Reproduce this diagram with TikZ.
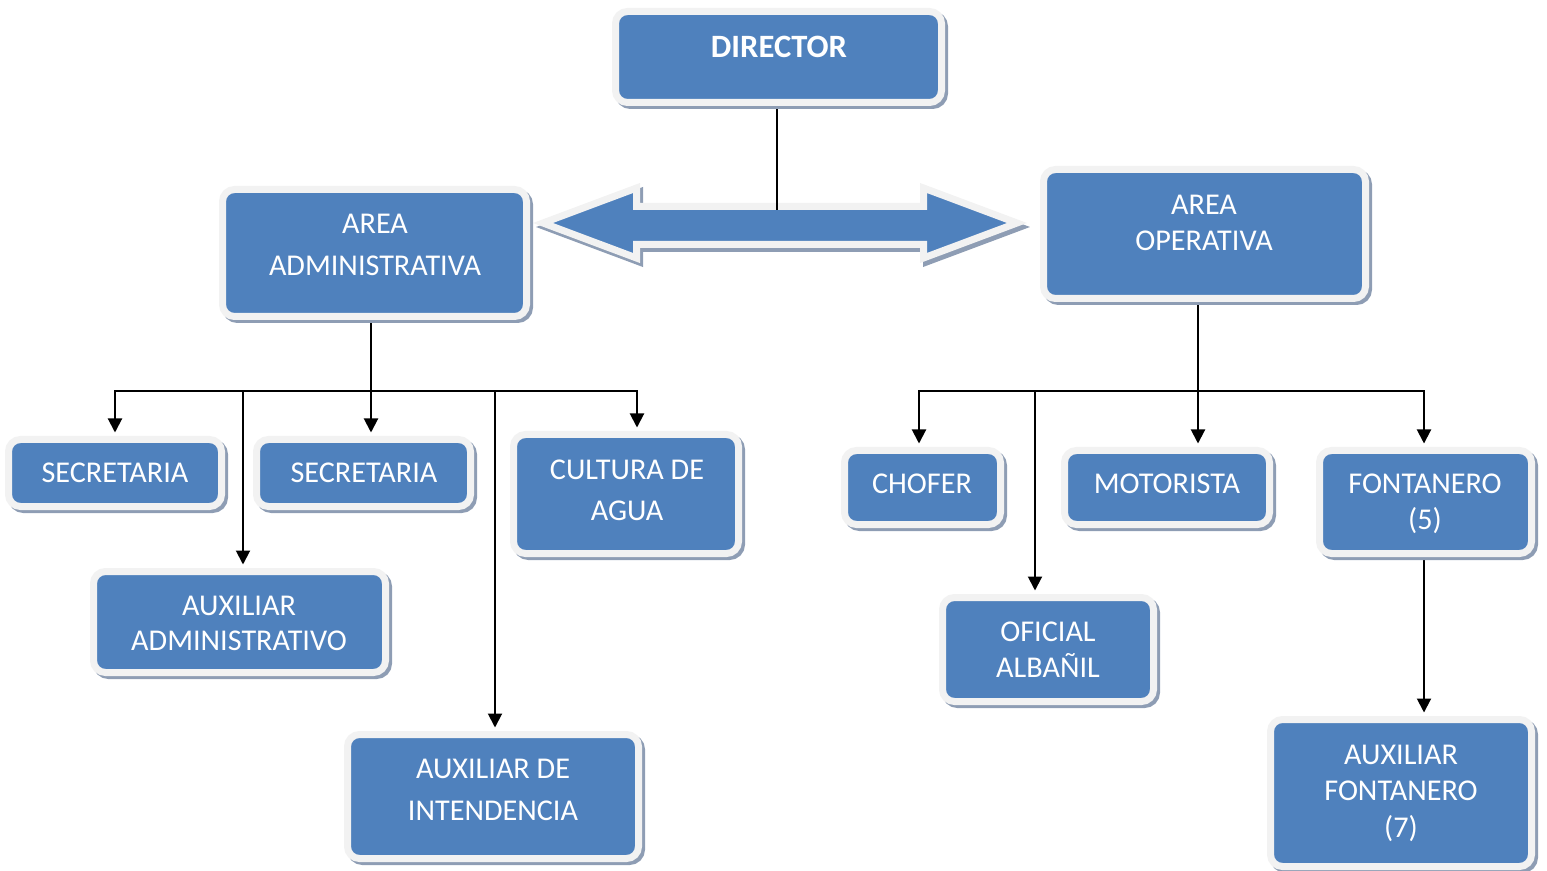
\documentclass[tikz,border=0pt]{standalone}
\usepackage{fontspec}
\setmainfont{Carlito}
\usetikzlibrary{arrows.meta}
\definecolor{boxblue}{HTML}{4F81BD}
\definecolor{boxborder}{HTML}{F2F2F2}
\definecolor{shadowcol}{HTML}{8E9DB4}
\pgfdeclarelayer{back}
\pgfdeclarelayer{mid}
\pgfsetlayers{back,mid,main}
\tikzset{
  obox/.style={rectangle, rounded corners=6pt, fill=boxblue, draw=boxborder, line width=3.5pt, inner sep=0pt},
  oshadow/.style={rectangle, rounded corners=6pt, fill=shadowcol, draw=shadowcol, line width=3.5pt, inner sep=0pt},
  lbl/.style={text=white, align=center, inner sep=0pt, font=\fontsize{15.1}{18}\selectfont},
  lblwide/.style={lbl, font=\fontsize{15.1}{20.6}\selectfont},
  conn/.style={line width=1pt, black},
  arr/.style={conn, -{Triangle[width=7pt,length=7pt]}, shorten >=1.75pt},
}
\newcommand\orgbox[5]{%
  \pgfmathsetmacro\obW{(#4-#2+7)*0.5}%
  \pgfmathsetmacro\obH{(#5-#3+7)*0.5}%
  \node[oshadow, minimum width=\obW pt, minimum height=\obH pt] at ({(#2+#4)/2+3},{(#3+#5)/2+3}) {};%
  \node[obox, minimum width=\obW pt, minimum height=\obH pt] (#1) at ({(#2+#4)/2},{(#3+#5)/2}) {};%
}
\begin{document}
\begin{tikzpicture}[x=0.5pt, y=-0.5pt]
\useasboundingbox (0,0) rectangle (1547,871);

% boxes
\orgbox{director}{619}{15}{938}{99}
\orgbox{admin}{226}{193}{523}{313}
\orgbox{oper}{1047}{173}{1362}{295}
\orgbox{sec1}{12}{443}{218}{503}
\orgbox{sec2}{260}{443}{467}{503}
\orgbox{cult}{517}{438}{735}{550}
\orgbox{auxadm}{97}{575}{382}{669}
\orgbox{auxint}{351}{738}{635}{855}
\orgbox{chofer}{848}{454}{997}{521}
\orgbox{motor}{1068}{454}{1266}{521}
\orgbox{font}{1323}{454}{1528}{550}
\orgbox{ofic}{946}{601}{1150}{698}
\orgbox{auxfont}{1274}{723}{1528}{863}

% labels
\node[lbl, font=\bfseries\fontsize{16.3}{18}\selectfont] (directorT) at (779,47) {DIRECTOR};
\node[lblwide] (adminT) at (375,245) {AREA\\ADMINISTRATIVA};
\node[lbl] (operT) at (1204,223) {AREA\\OPERATIVA};
\node[lbl] (sec1T) at (115,473) {SECRETARIA};
\node[lbl] (sec2T) at (364,473) {SECRETARIA};
\node[lblwide] (cultT) at (627,490) {CULTURA DE\\AGUA};
\node[lbl, font=\fontsize{15.1}{17.5}\selectfont] (auxadmT) at (239,623) {AUXILIAR\\ADMINISTRATIVO};
\node[lblwide] (auxintT) at (493,790) {AUXILIAR DE\\INTENDENCIA};
\node[lbl] (choferT) at (922,484) {CHOFER};
\node[lbl] (motorT) at (1167,484) {MOTORISTA};
\node[lbl] (fontT) at (1425,504) {FONTANERO\\(5)};
\node[lbl] (oficT) at (1048,650) {OFICIAL\\ALBAÑIL};
\node[lbl, font=\fontsize{15.1}{18.25}\selectfont] (auxfontT) at (1401,793) {AUXILIAR\\FONTANERO\\(7)};

% double arrow
\begin{pgfonlayer}{back}
\draw[shadowcol, fill=shadowcol, line width=3.5pt, line join=miter, shift={(3,4)}]
  (543,223) -- (636.5,188) -- (636.5,206.5) -- (923.5,206.5) -- (923.5,188) -- (1017,223)
  -- (923.5,258) -- (923.5,244.5) -- (636.5,244.5) -- (636.5,258) -- cycle;
\draw[boxborder, fill=boxblue, line width=3.5pt, line join=miter]
  (543,223) -- (636.5,188) -- (636.5,206.5) -- (923.5,206.5) -- (923.5,188) -- (1017,223)
  -- (923.5,258) -- (923.5,244.5) -- (636.5,244.5) -- (636.5,258) -- cycle;
\end{pgfonlayer}
\coordinate (dblTop) at (777,210);

% bus coordinates
\coordinate (bA1) at (115,391);
\coordinate (bA2) at (243,391);
\coordinate (bA3) at (371,391);
\coordinate (bA4) at (495,391);
\coordinate (bA5) at (637,391);
\coordinate (bO1) at (919,391);
\coordinate (bO2) at (1035,391);
\coordinate (bO3) at (1198,391);
\coordinate (bO4) at (1424,391);

\begin{pgfonlayer}{mid}
\draw[conn] (director.south -| dblTop) -- (dblTop);
% administrative
\draw[arr] (admin.south -| bA3) -- (bA3 |- sec2.north);
\draw[arr] (bA3) -| (bA1 |- sec1.north);
\draw[arr] (bA3) -| (bA5 |- cult.north);
\draw[arr] (bA2) -- (bA2 |- auxadm.north);
\draw[arr] (bA4) -- (bA4 |- auxint.north);
% operative
\draw[arr] (oper.south -| bO3) -- (bO3 |- motor.north);
\draw[arr] (bO3) -| (bO1 |- chofer.north);
\draw[arr] (bO3) -| (bO4 |- font.north);
\draw[arr] (bO2) -- (bO2 |- ofic.north);
\draw[arr] (font.south -| bO4) -- (bO4 |- auxfont.north);
\end{pgfonlayer}
\end{tikzpicture}
\end{document}
